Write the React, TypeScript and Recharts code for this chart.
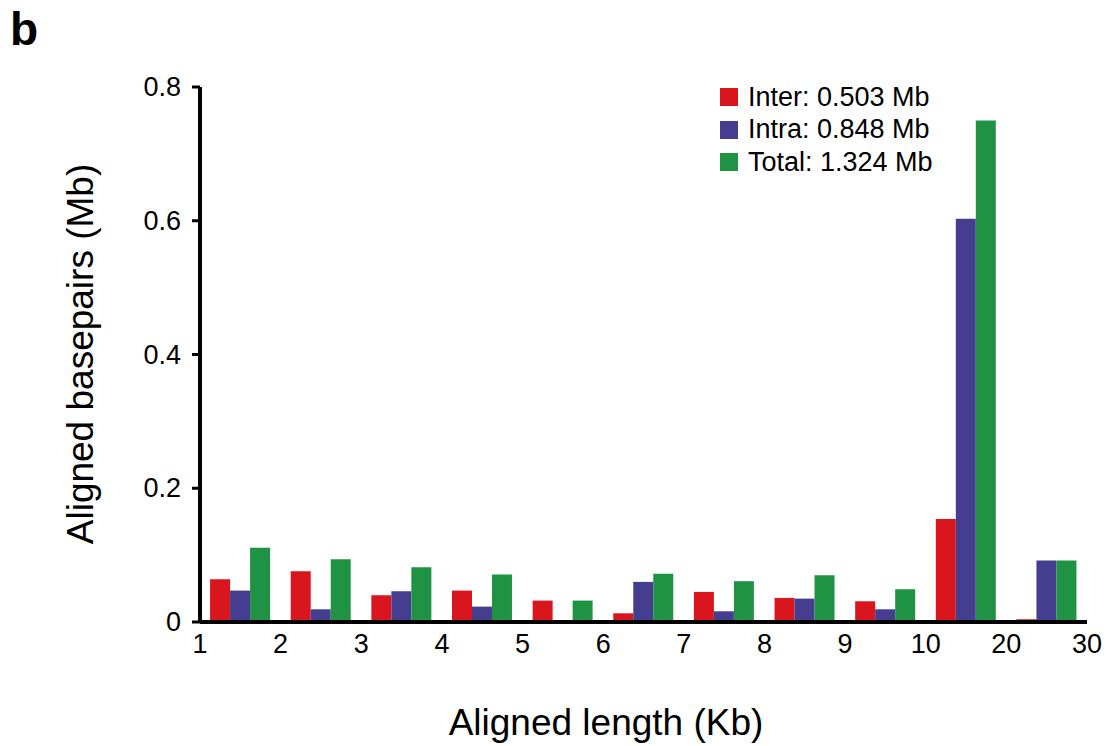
import React from 'react';
import { BarChart, Bar, XAxis, YAxis, Legend } from 'recharts';

if (typeof document !== 'undefined') {
  document.body.style.margin = '0';
  document.body.style.overflow = 'hidden';
}

const categories = ['1-2', '2-3', '3-4', '4-5', '5-6', '6-7', '7-8', '8-9', '9-10', '10-20', '20-30'];
const boundaryLabels = ['1', '2', '3', '4', '5', '6', '7', '8', '9', '10', '20', '30'];
const interValues = [0.064, 0.076, 0.040, 0.047, 0.032, 0.013, 0.045, 0.036, 0.031, 0.154, 0.004];
const intraValues = [0.047, 0.019, 0.046, 0.023, 0, 0.060, 0.016, 0.035, 0.019, 0.603, 0.092];
const totalValues = [0.111, 0.094, 0.082, 0.071, 0.032, 0.072, 0.061, 0.070, 0.049, 0.750, 0.092];
const yTicks = [0, 0.2, 0.4, 0.6, 0.8];
const yTickLabels = ['0', '0.2', '0.4', '0.6', '0.8'];
const seriesNames = ['Inter: 0.503 Mb', 'Intra: 0.848 Mb', 'Total: 1.324 Mb'];

const COLORS = { inter: '#d9161d', intra: '#453d8f', total: '#1f9343' };
const FONT = '"Liberation Sans", Arial, Helvetica, sans-serif';

const W = 1107;
const H = 746;
const MARGIN = { top: 87, right: 20, bottom: 0, left: 120 };
const Y_AXIS_W = 80;
const X_AXIS_H = 124;
const PLOT_LEFT = MARGIN.left + Y_AXIS_W;
const PLOT_RIGHT = W - MARGIN.right;
const PLOT_BOTTOM = H - MARGIN.bottom - X_AXIS_H;
const BAND = (PLOT_RIGHT - PLOT_LEFT) / categories.length;

const data = categories.map((c, i) => ({
  cat: c,
  inter: interValues[i],
  intra: intraValues[i],
  total: totalValues[i],
}));

const XTick = (props: any) => {
  const { x, index } = props;
  const baseY = PLOT_BOTTOM + 31;
  const style = { fontFamily: FONT, fontSize: 27, fill: '#000' };
  return (
    <g>
      <text x={x - BAND / 2} y={baseY} textAnchor="middle" style={style}>
        {boundaryLabels[index]}
      </text>
      {index === categories.length - 1 && (
        <text x={x + BAND / 2} y={baseY} textAnchor="middle" style={style}>
          {boundaryLabels[index + 1]}
        </text>
      )}
    </g>
  );
};

const YTick = (props: any) => {
  const { x, y, payload } = props;
  const idx = yTicks.indexOf(payload.value);
  return (
    <text x={x - 1} y={y} dy={9} textAnchor="end" style={{ fontFamily: FONT, fontSize: 27, fill: '#000' }}>
      {idx >= 0 ? yTickLabels[idx] : payload.value}
    </text>
  );
};

const renderLegend = (props: any) => {
  const { payload } = props;
  return (
    <div style={{ fontFamily: FONT, fontSize: 27, color: '#000' }}>
      {(payload || []).map((p: any, i: number) => (
        <div key={i} style={{ display: 'flex', alignItems: 'center', height: 32.5, whiteSpace: 'nowrap' }}>
          <span style={{ display: 'inline-block', width: 18, height: 18, background: p.color, marginRight: 10 }} />
          <span>{p.value}</span>
        </div>
      ))}
    </div>
  );
};

export default function App() {
  return (
    <div style={{ position: 'relative', width: W, height: H, background: '#fff', overflow: 'hidden' }}>
      <div
        style={{
          position: 'absolute',
          left: 10,
          top: 6,
          fontFamily: FONT,
          fontWeight: 'bold',
          fontSize: 46,
          lineHeight: 1,
          color: '#000',
        }}
      >
        b
      </div>
      <BarChart
        width={W}
        height={H}
        data={data}
        margin={MARGIN}
        barCategoryGap="12.5%"
        barGap={0}
      >
        <XAxis
          dataKey="cat"
          height={X_AXIS_H}
          axisLine={{ stroke: '#000', strokeWidth: 4 }}
          tickLine={false}
          tick={<XTick />}
          interval={0}
          label={{
            content: () => (
              <text
                x={606}
                y={735}
                textAnchor="middle"
                style={{ fontFamily: FONT, fontSize: 37, fill: '#000' }}
              >
                Aligned length (Kb)
              </text>
            ),
          }}
        />
        <YAxis
          width={Y_AXIS_W}
          domain={[0, 0.8]}
          ticks={yTicks}
          interval={0}
          axisLine={{ stroke: '#000', strokeWidth: 4 }}
          tickLine={{ stroke: '#000', strokeWidth: 3 }}
          tickSize={8}
          tickMargin={10}
          tick={<YTick />}
          label={{
            content: () => (
              <text
                x={93}
                y={354}
                textAnchor="middle"
                transform="rotate(-90, 93, 354)"
                style={{ fontFamily: FONT, fontSize: 37, fill: '#000' }}
              >
                Aligned basepairs (Mb)
              </text>
            ),
          }}
        />
        <Legend
          layout="vertical"
          align="center"
          verticalAlign="middle"
          content={renderLegend}
          wrapperStyle={{ left: 720, top: 81, width: 260 }}
        />
        <Bar dataKey="inter" name={seriesNames[0]} fill={COLORS.inter} isAnimationActive={false} />
        <Bar dataKey="intra" name={seriesNames[1]} fill={COLORS.intra} isAnimationActive={false} />
        <Bar dataKey="total" name={seriesNames[2]} fill={COLORS.total} isAnimationActive={false} />
      </BarChart>
    </div>
  );
}
